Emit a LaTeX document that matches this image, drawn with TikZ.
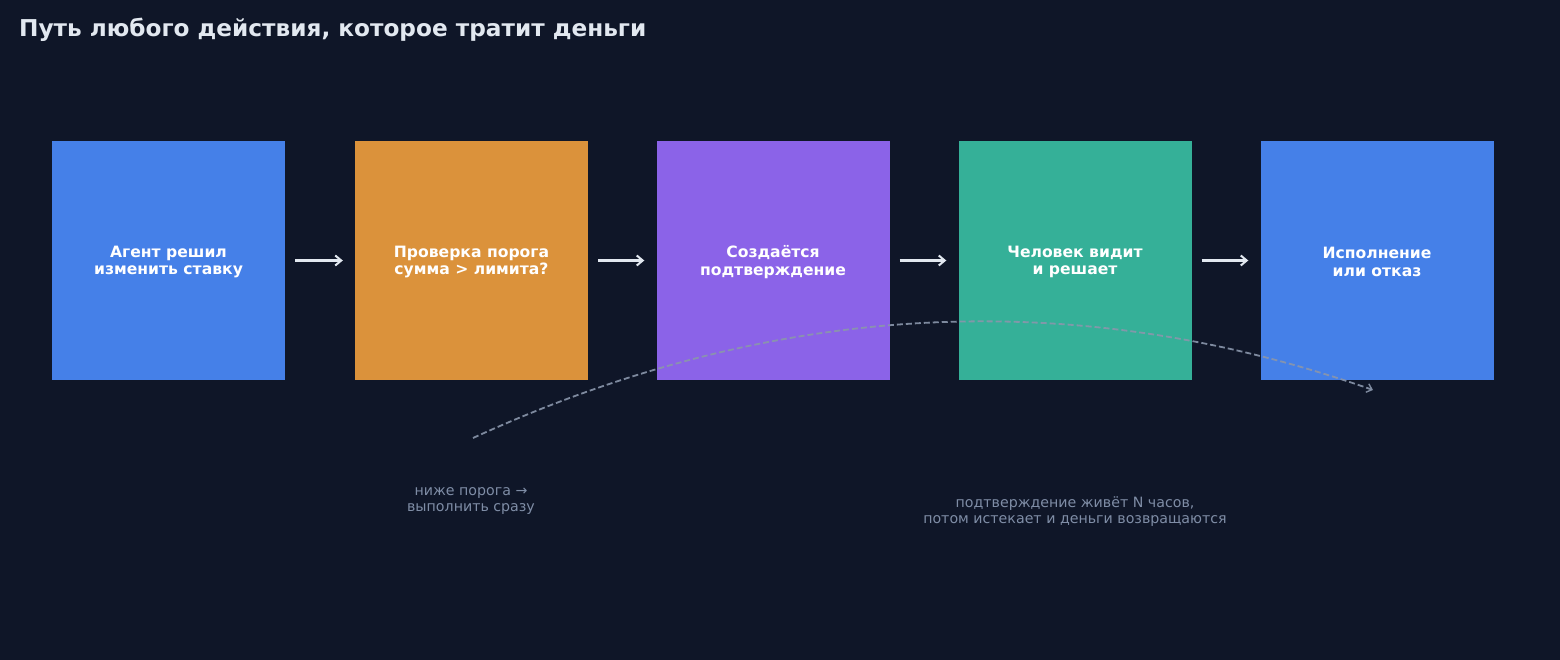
\documentclass[tikz,border=0pt]{standalone}
\usepackage{fontspec}
\setmainfont{DejaVu Sans}
\usetikzlibrary{arrows.meta}
\definecolor{bg}{HTML}{0F1628}
\definecolor{cblue}{HTML}{4580E8}
\definecolor{corange}{HTML}{DB923B}
\definecolor{cpurple}{HTML}{8B63E8}
\definecolor{cgreen}{HTML}{35B098}
\definecolor{ctitle}{HTML}{E2E8F0}
\definecolor{cnote}{HTML}{7F8DA6}
\definecolor{ccurve}{HTML}{8A96AB}
\begin{document}
\begin{tikzpicture}[x=1pt,y=-1pt,
  stepbox/.style={minimum width=233pt,minimum height=238pt,inner sep=0pt,
    text=white,font=\bfseries\fontsize{15.6}{17.5}\selectfont,align=center},
  steptext/.style={inner sep=0pt,text=white,font=\bfseries\fontsize{15.6}{17.5}\selectfont,align=center},
  flow/.style={draw=ctitle,line width=2.4pt,-{Straight Barb[length=6pt,width=10pt,line width=2pt]},
    shorten <=10pt,shorten >=12pt},
  note/.style={text=cnote,font=\fontsize{14.2}{16.8}\selectfont,align=center},
  curve/.style={draw=ccurve,opacity=0.9,line width=1.8pt,dash pattern=on 6pt off 3pt,
    -{Straight Barb[length=5pt,width=9pt,line width=1.4pt]}}]
\fill[bg] (0,0) rectangle (1560,660);
\useasboundingbox (0,0) rectangle (1560,660);
\node[anchor=base west,inner sep=0pt,text=ctitle,font=\bfseries\fontsize{23.2}{27}\selectfont] (title) at (19,37) {Путь любого действия, которое тратит деньги};
\node[stepbox,fill=cblue] (b1) at (168.5,260.5) {};
\node[stepbox,fill=corange] (b2) at (471.5,260.5) {};
\node[stepbox,fill=cpurple] (b3) at (773,260.5) {};
\node[stepbox,fill=cgreen] (b4) at (1075,260.5) {};
\node[stepbox,fill=cblue] (b5) at (1377,260.5) {};
\node[steptext] (t1) at (168.5,262) {Агент решил\\изменить ставку};
\node[steptext] (t2) at (471.5,262) {Проверка порога\\сумма > лимита?};
\node[steptext] (t3) at (773,262) {Создаётся\\подтверждение};
\node[steptext] (t4) at (1075,262) {Человек видит\\и решает};
\node[steptext] (t5) at (1377,262) {Исполнение\\или отказ};
\foreach \a/\b in {b1/b2,b2/b3,b3/b4,b4/b5}
  \draw[flow] (\a.east) -- (\b.west);
\node[note] (n1) at (471,501) {ниже порога →\\выполнить сразу};
\node[note] (n2) at (1075,511.5) {подтверждение живёт N часов,\\потом истекает и деньги возвращаются};
\coordinate (cs) at (473,438);
\coordinate (ce) at (1373,390);
\draw[curve] (cs) .. controls (773,300.7) and (1073,284.7) .. (ce);
\end{tikzpicture}
\end{document}
